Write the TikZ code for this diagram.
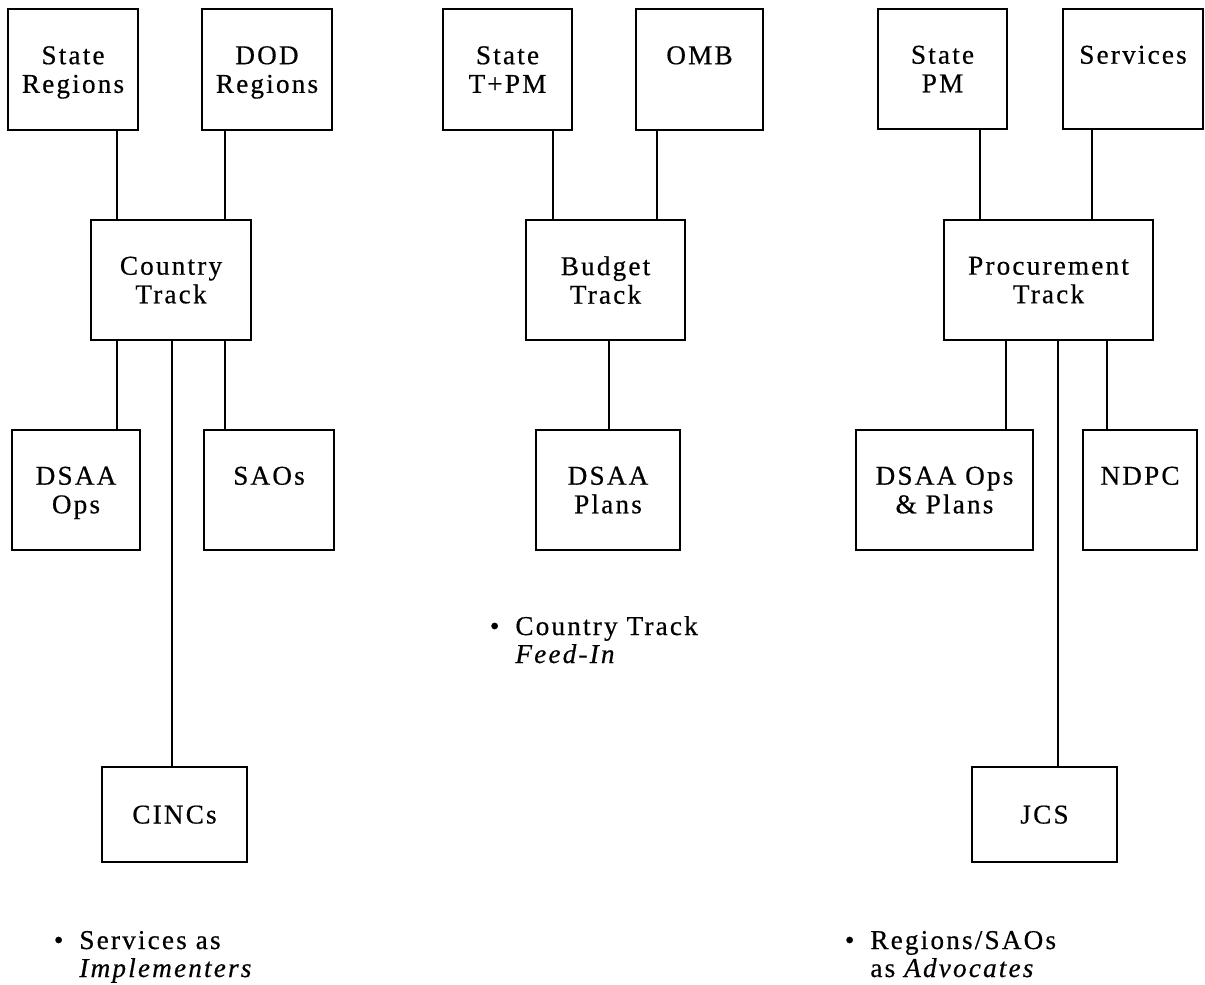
\documentclass[tikz,border=0pt]{standalone}
\usepackage{fontspec}
\setmainfont{Liberation Serif}[LetterSpace=8, FakeBold=0.5]

\begin{document}
\begin{tikzpicture}[
    x=0.5pt, y=-0.5pt,
    % Style for the boxes of the three tracks
    trackbox/.style 2 args={draw=black, line width=1.1pt, inner sep=0pt,
        minimum width=#1, minimum height=#2, align=center, text depth=-2.5pt,
        font=\fontsize{13.6pt}{14.3pt}\selectfont},
    % Style for the links between the boxes
    link/.style={draw=black, line width=1.1pt},
    % Style for the notes under each track (anchored on their last line)
    note/.style={anchor=base west, align=left, inner sep=0pt,
        font=\fontsize{13.6pt}{14pt}\selectfont}
]

    \useasboundingbox (0,0) rectangle (1205,985);

    % Country track

    %% Boxes
    \node[trackbox={65pt}{60.5pt}] (sreg) at (73,69.5) {State\\Regions};
    \node[trackbox={65pt}{60.5pt}] (dreg) at (267,69.5) {DOD\\Regions};
    \node[trackbox={80pt}{60pt}] (ctry) at (171,280) {Country\\Track};
    \node[trackbox={64pt}{60pt}] (dops) at (76,490) {DSAA\\Ops};
    \node[trackbox={65pt}{60pt}] (saos) at (269,490) {SAOs\\\mbox{}};
    \node[trackbox={72.5pt}{47.5pt}] (cincs) at (174.5,814.5) {CINCs};

    %% Columns of the links
    \coordinate (c1l) at (117,0);
    \coordinate (c1m) at (172,0);
    \coordinate (c1r) at (225,0);

    %% Links
    \draw[link] (sreg.south -| c1l) -- (ctry.north -| c1l);
    \draw[link] (dreg.south -| c1r) -- (ctry.north -| c1r);
    \draw[link] (ctry.south -| c1l) -- (dops.north -| c1l);
    \draw[link] (ctry.south -| c1r) -- (saos.north -| c1r);
    \draw[link] (ctry.south -| c1m) -- (cincs.north -| c1m);

    %% Note
    \node[note] (svcnote) at (79,977)
        {\llap{\textbullet\hspace{8pt}}Services as\\\textit{Implementers}};


    % Budget track

    %% Boxes
    \node[trackbox={64.5pt}{60.5pt}] (stpm) at (507.5,69.5) {State\\T+PM};
    \node[trackbox={63.5pt}{60.5pt}] (omb) at (699.5,69.5) {OMB\\\mbox{}};
    \node[trackbox={79.5pt}{60pt}] (bdgt) at (605.5,280) {Budget\\Track};
    \node[trackbox={72pt}{60pt}] (dpln) at (608,490) {DSAA\\Plans};

    %% Columns of the links
    \coordinate (c2l) at (553,0);
    \coordinate (c2m) at (609,0);
    \coordinate (c2r) at (657,0);

    %% Links
    \draw[link] (stpm.south -| c2l) -- (bdgt.north -| c2l);
    \draw[link] (omb.south -| c2r) -- (bdgt.north -| c2r);
    \draw[link] (bdgt.south -| c2m) -- (dpln.north -| c2m);

    %% Note
    \node[note] (ctrynote) at (515,663)
        {\llap{\textbullet\hspace{8pt}}Country Track\\\textit{Feed-In}};


    % Procurement track

    %% Boxes
    \node[trackbox={64.5pt}{60pt}] (spm) at (942.5,69) {State\\PM};
    \node[trackbox={70pt}{60pt}] (serv) at (1133,69) {Services\\\mbox{}};
    \node[trackbox={104.5pt}{60pt}] (proc) at (1048.5,280) {Procurement\\Track};
    \node[trackbox={88.5pt}{60pt}] (dopl) at (944.5,490) {DSAA Ops\\\& Plans};
    \node[trackbox={57pt}{60pt}] (ndpc) at (1140,490) {NDPC\\\mbox{}};
    \node[trackbox={72.5pt}{47.5pt}] (jcs) at (1044.5,814.5) {JCS};

    %% Columns of the links
    \coordinate (c3l) at (980,0);
    \coordinate (c3a) at (1006,0);
    \coordinate (c3m) at (1058,0);
    \coordinate (c3r) at (1092,0);
    \coordinate (c3b) at (1107,0);

    %% Links
    \draw[link] (spm.south -| c3l) -- (proc.north -| c3l);
    \draw[link] (serv.south -| c3r) -- (proc.north -| c3r);
    \draw[link] (proc.south -| c3a) -- (dopl.north -| c3a);
    \draw[link] (proc.south -| c3b) -- (ndpc.north -| c3b);
    \draw[link] (proc.south -| c3m) -- (jcs.north -| c3m);

    %% Note
    \node[note] (regnote) at (870,977)
        {\llap{\textbullet\hspace{8pt}}Regions/SAOs\\as \textit{Advocates}};

\end{tikzpicture}
\end{document}
